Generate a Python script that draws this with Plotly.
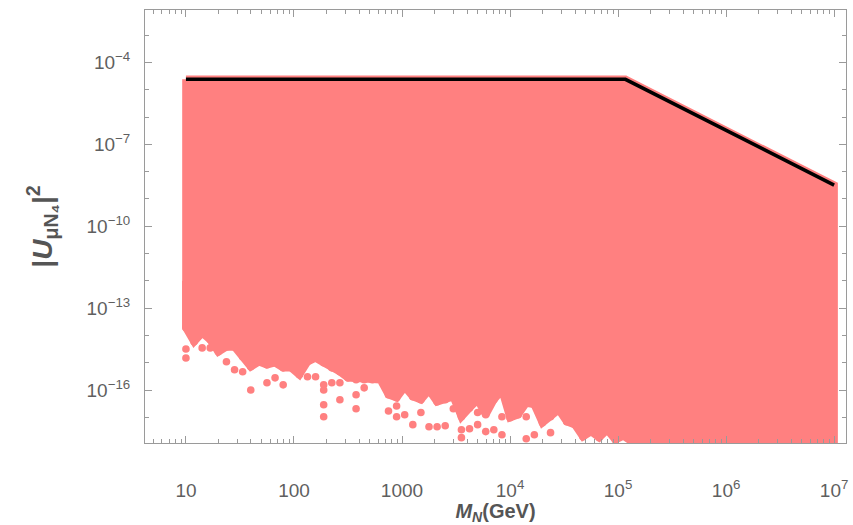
import plotly.graph_objects as go

# ---------------- data ----------------
# upper envelope (black curve)
upper_mass = [10, 1.17e5, 1.0e7]
upper_u2 = [2.4e-5, 2.4e-5, 3.2e-9]

# columns of scan points: mass of each column and lowest connected point
col_mass = [10, 11.89, 14.13, 16.79, 19.95, 23.71, 28.18, 33.50, 39.81, 47.32,
            56.23, 66.83, 79.43, 94.41, 112.2, 133.4, 158.5, 188.4, 223.9, 266.1,
            316.2, 375.8, 446.7, 530.9, 631.0, 749.9, 891.3, 1059, 1259, 1496,
            1778, 2113, 2512, 2985, 3548, 4217, 5012, 5957, 7079, 8414,
            10000, 11885, 14125, 16788, 19953, 23714, 28184, 33497, 39811, 47315,
            56234, 66834, 79433, 94406, 112202, 133352]
col_bottom = [1.9e-14, 5.9e-15, 1.24e-14, 6.9e-15, 2.5e-15, 3.8e-15, 3.8e-15, 1.65e-15, 7.1e-16, 1.08e-15,
              8.4e-16, 1.0e-15, 6.5e-16, 6.5e-16, 3.6e-16, 1.08e-15, 1.5e-15, 1.0e-15, 6.5e-16, 4.7e-16,
              2.8e-16, 2.4e-16, 2.4e-16, 2.4e-16, 2.4e-16, 6.7e-17, 5.2e-17, 1.3e-16, 5.7e-17, 4.4e-17,
              1.0e-16, 3.7e-17, 4.4e-17, 5.7e-17, 1.05e-17, 2.2e-17, 4.4e-17, 1.25e-17, 4.4e-17, 1.0e-16,
              9.7e-18, 1.25e-17, 3.4e-17, 2.9e-17, 6.3e-18, 1.05e-17, 1.9e-17, 6.9e-18, 5.4e-18, 1.95e-18,
              3.0e-18, 1.8e-18, 3.5e-18, 1.5e-18, 2.1e-18, 1.3e-18]

# beyond ~1.5e5 GeV the scan reaches below the plotted range
deep_mass = [1.6e5, 1.0e7]
deep_u2 = [5e-19, 5e-19]

# isolated scan points below the columns
dot_mass = [10, 10, 14.13, 16.79, 23.71, 28.18, 33.50, 39.81, 56.23, 66.83,
            79.43, 133.4, 158.5, 188.4, 188.4, 188.4, 188.4, 223.9, 266.1, 266.1,
            375.8, 375.8, 446.7, 749.9, 891.3, 891.3, 1059, 1259, 1496, 1778,
            2113, 2512, 2985, 3548, 3548, 4217, 5012, 5012, 5957, 7079,
            8414, 8414, 14125, 14125, 16788, 23714]
dot_u2 = [3.2e-15, 1.5e-15, 3.5e-15, 3.5e-15, 1.08e-15, 5.5e-16, 4.7e-16, 1.0e-16, 1.85e-16, 2.8e-16,
          1.55e-16, 3.05e-16, 3.05e-16, 1.55e-16, 1.0e-16, 2.9e-17, 1.05e-17, 1.85e-16, 1.85e-16, 4.4e-17,
          6.7e-17, 2.07e-17, 1.2e-16, 1.7e-17, 2.6e-17, 1.05e-17, 1.25e-17, 5.4e-18, 1.5e-17, 4.5e-18,
          4.5e-18, 4.9e-18, 2.07e-17, 3.5e-18, 1.8e-18, 3.8e-18, 1.5e-17, 5.4e-18, 3.0e-18, 3.5e-18,
          1.05e-17, 2.3e-18, 1.05e-17, 1.65e-18, 2.3e-18, 2.75e-18]

x_tick_vals = [10, 100, 1000, 1e4, 1e5, 1e6, 1e7]
x_tick_text = ["10", "100", "1000", "10<sup>4</sup>", "10<sup>5</sup>", "10<sup>6</sup>", "10<sup>7</sup>"]
y_tick_vals = [1e-4, 1e-7, 1e-10, 1e-13, 1e-16]
y_tick_text = ["10<sup>\u22124</sup>", "10<sup>\u22127</sup>", "10<sup>\u221210</sup>",
               "10<sup>\u221213</sup>", "10<sup>\u221216</sup>"]

# ---------------- figure ----------------
PINK = "rgb(255,128,128)"
FRAME = "#9a9a9a"
TXT = "#5f5f5f"
FAM = "Liberation Sans, Arial, sans-serif"
COLUMN_TOP = 1e-12  # columns drawn up into the solid region

# closed region: upper envelope, then lower ragged edge from right to left, back to start
poly_x = upper_mass + deep_mass[::-1] + col_mass[::-1] + upper_mass[:1]
poly_y = upper_u2 + deep_u2[::-1] + col_bottom[::-1] + upper_u2[:1]

# vertical column segments
seg_x, seg_y = [], []
for m, b in zip(col_mass, col_bottom):
    seg_x += [m, m, None]
    seg_y += [b, COLUMN_TOP, None]

fig = go.Figure()
fig.add_trace(go.Scatter(x=poly_x, y=poly_y, mode="lines", fill="toself",
                         fillcolor=PINK, line=dict(color=PINK, width=7.5),
                         hoverinfo="skip", showlegend=False))
fig.add_trace(go.Scatter(x=seg_x, y=seg_y, mode="lines",
                         line=dict(color=PINK, width=7.6),
                         hoverinfo="skip", showlegend=False))
fig.add_trace(go.Scatter(x=col_mass, y=col_bottom, mode="markers",
                         marker=dict(color=PINK, size=7.6, line=dict(width=0)),
                         showlegend=False))
fig.add_trace(go.Scatter(x=dot_mass, y=dot_u2, mode="markers",
                         marker=dict(color=PINK, size=7.6, line=dict(width=0)),
                         showlegend=False))
fig.add_trace(go.Scatter(x=upper_mass, y=upper_u2, mode="lines",
                         line=dict(color="black", width=3.5), showlegend=False))

x_minor = [m * 10 ** e for e in range(0, 8) for m in range(2, 10)]
y_minor = [10.0 ** e for e in range(-18, -1) if e not in (-4, -7, -10, -13, -16)]

font_ticks = dict(family=FAM, size=19, color=TXT)

fig.update_layout(
    width=853, height=525,
    margin=dict(l=145, r=5, t=10, b=82),
    paper_bgcolor="white", plot_bgcolor="white",
    font=font_ticks,
    xaxis=dict(type="log", range=[0.621, 7.11], showgrid=False, zeroline=False,
               showline=True, linecolor=FRAME, linewidth=1, mirror="allticks",
               ticks="inside", ticklen=7, tickcolor=FRAME,
               tickvals=x_tick_vals, ticktext=x_tick_text, tickfont=font_ticks,
               ticklabelstandoff=30,
               minor=dict(ticks="inside", ticklen=4, tickcolor=FRAME, tickvals=x_minor, showgrid=False),
               title=dict(text="<b><i>M</i><sub><i>N</i></sub>(GeV)</b>",
                          font=dict(family=FAM, size=20, color="#555555"),
                          standoff=4)),
    yaxis=dict(type="log", range=[-17.94, -2.08], showgrid=False, zeroline=False,
               showline=True, linecolor=FRAME, linewidth=1, mirror="allticks",
               ticks="inside", ticklen=7, tickcolor=FRAME,
               tickvals=y_tick_vals, ticktext=y_tick_text, tickfont=font_ticks,
               ticklabelstandoff=10,
               minor=dict(ticks="inside", ticklen=4, tickcolor=FRAME, tickvals=y_minor, showgrid=False),
               title=dict(text="<b>|<i>U</i><sub>\u03bcN\u2084</sub>|<sup>2</sup></b>",
                          font=dict(family=FAM, size=28, color="#555555"),
                          standoff=25)),
)

fig.write_html("out.html")
